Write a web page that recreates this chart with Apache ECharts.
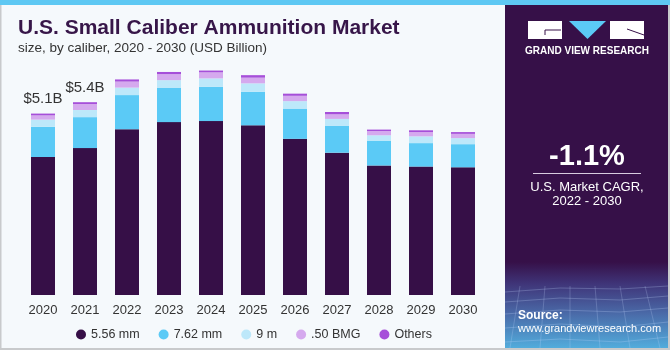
<!DOCTYPE html>
<html>
<head>
<meta charset="utf-8">
<script src="https://cdn.jsdelivr.net/npm/echarts@6/dist/echarts.min.js"></script>
<style>
  html, body { margin: 0; padding: 0; }
  #main { width: 670px; height: 350px; }
</style>
</head>
<body>
<div id="main"></div>
<script>
// data (USD Billion)
var years = ['2020', '2021', '2022', '2023', '2024', '2025', '2026', '2027', '2028', '2029', '2030'];
var mm556 = [3.88, 4.13, 4.66, 4.86, 4.89, 4.77, 4.39, 4.00, 3.64, 3.61, 3.59];
var mm762 = [0.85, 0.87, 0.96, 0.96, 0.96, 0.94, 0.85, 0.76, 0.69, 0.66, 0.65];
var mm9 = [0.20, 0.20, 0.21, 0.22, 0.24, 0.24, 0.21, 0.19, 0.16, 0.19, 0.17];
var bmg50 = [0.12, 0.17, 0.17, 0.17, 0.17, 0.16, 0.15, 0.13, 0.12, 0.12, 0.12];
var others = [0.05, 0.05, 0.06, 0.06, 0.05, 0.07, 0.06, 0.065, 0.04, 0.05, 0.05];
var totalLabels = ['$5.1B', '$5.4B', '', '', '', '', '', '', '', '', ''];

var names = ['5.56 mm', '7.62 mm', '9 m', '.50 BMG', 'Others'];
var colors = ['#360f47', '#5bcaf6', '#bde8fa', '#d5a9ee', '#a64fd9'];
var values = [mm556, mm762, mm9, bmg50, others];

var myChart = echarts.init(document.getElementById('main'));

var series = values.map(function (arr, i) {
    var s = {
        name: names[i],
        type: 'bar',
        stack: 'total',
        barWidth: 24,
        itemStyle: { color: colors[i] },
        data: arr
    };
    if (i === values.length - 1) {
        s.data = arr.map(function (v, j) {
            return {
                value: v,
                label: {
                    show: totalLabels[j] !== '',
                    position: 'top',
                    distance: 7,
                    formatter: totalLabels[j],
                    fontSize: 15,
                    color: '#333',
                    fontFamily: 'Liberation Sans'
                }
            };
        });
    }
    return s;
});

var option = {
    backgroundColor: '#f5f9fc',
    animation: false,
    textStyle: { fontFamily: 'Liberation Sans' },
    grid: { left: 22, right: 186, top: 46, bottom: 55 },
    xAxis: {
        type: 'category',
        data: years,
        axisLine: { show: false },
        axisTick: { show: false },
        axisLabel: { color: '#333', fontSize: 13, margin: 9 }
    },
    yAxis: {
        type: 'value',
        min: 0,
        max: 7,
        show: false
    },
    legend: {
        data: names,
        left: 71,
        top: 323,
        icon: 'circle',
        itemWidth: 10,
        itemHeight: 10,
        itemGap: 19,
        textStyle: { color: '#333', fontSize: 12.5 }
    },
    series: series,
    graphic: [
        // borders and top stripe
        { type: 'rect', shape: { x: 0, y: 0, width: 670, height: 5 }, style: { fill: '#5ec8f3' } },
        { type: 'rect', shape: { x: 0, y: 5, width: 1.5, height: 345 }, style: { fill: '#c8cacc' } },
        { type: 'rect', shape: { x: 0, y: 348, width: 670, height: 2 }, style: { fill: '#c8cacc' } },
        { type: 'rect', shape: { x: 668, y: 5, width: 2, height: 345 }, style: { fill: '#c8cacc' } },
        // right panel
        { type: 'rect', shape: { x: 505, y: 5, width: 163, height: 343 }, style: { fill: '#361048' } },
        {
            type: 'rect', shape: { x: 505, y: 262, width: 163, height: 86 },
            style: {
                fill: new echarts.graphic.LinearGradient(0, 0, 0, 1, [
                    { offset: 0, color: '#361048' },
                    { offset: 0.25, color: '#3f3478' },
                    { offset: 0.6, color: '#4a6aa8' },
                    { offset: 1, color: '#52acdc' }
                ])
            }
        },
        // mesh lines
        { type: 'polyline', silent: true, shape: { points: [[505, 292], [560, 288], [620, 289], [668, 286]] }, style: { stroke: 'rgba(200,220,255,0.25)', lineWidth: 1, fill: null } },
        { type: 'polyline', silent: true, shape: { points: [[505, 302], [560, 298], [620, 300], [668, 296]] }, style: { stroke: 'rgba(200,220,255,0.25)', lineWidth: 1, fill: null } },
        { type: 'polyline', silent: true, shape: { points: [[505, 314], [560, 310], [620, 312], [668, 308]] }, style: { stroke: 'rgba(200,220,255,0.25)', lineWidth: 1, fill: null } },
        { type: 'polyline', silent: true, shape: { points: [[505, 328], [560, 324], [620, 327], [668, 322]] }, style: { stroke: 'rgba(200,220,255,0.25)', lineWidth: 1, fill: null } },
        { type: 'polyline', silent: true, shape: { points: [[505, 342], [560, 339], [620, 342], [668, 337]] }, style: { stroke: 'rgba(200,220,255,0.25)', lineWidth: 1, fill: null } },
        { type: 'line', silent: true, shape: { x1: 520, y1: 286, x2: 510, y2: 348 }, style: { stroke: 'rgba(200,220,255,0.22)', lineWidth: 1 } },
        { type: 'line', silent: true, shape: { x1: 545, y1: 286, x2: 540, y2: 348 }, style: { stroke: 'rgba(200,220,255,0.22)', lineWidth: 1 } },
        { type: 'line', silent: true, shape: { x1: 570, y1: 286, x2: 570, y2: 348 }, style: { stroke: 'rgba(200,220,255,0.22)', lineWidth: 1 } },
        { type: 'line', silent: true, shape: { x1: 595, y1: 286, x2: 600, y2: 348 }, style: { stroke: 'rgba(200,220,255,0.22)', lineWidth: 1 } },
        { type: 'line', silent: true, shape: { x1: 620, y1: 286, x2: 630, y2: 348 }, style: { stroke: 'rgba(200,220,255,0.22)', lineWidth: 1 } },
        { type: 'line', silent: true, shape: { x1: 645, y1: 286, x2: 660, y2: 348 }, style: { stroke: 'rgba(200,220,255,0.22)', lineWidth: 1 } },
        // logo
        { type: 'rect', shape: { x: 528, y: 21, width: 34, height: 18 }, style: { fill: '#fff' } },
        { type: 'polyline', shape: { points: [[561, 30], [545, 30], [545, 35]] }, style: { stroke: '#361048', lineWidth: 1, fill: null } },
        { type: 'polygon', shape: { points: [[569, 21], [606, 21], [587.5, 39]] }, style: { fill: '#5bcaf6' } },
        { type: 'rect', shape: { x: 610, y: 21, width: 34, height: 18 }, style: { fill: '#fff' } },
        { type: 'line', shape: { x1: 627, y1: 29, x2: 644, y2: 35 }, style: { stroke: '#361048', lineWidth: 1 } },
        { type: 'text', style: { x: 587, y: 51, text: 'GRAND VIEW RESEARCH', fill: '#fff', font: 'bold 10px "Liberation Sans"', textAlign: 'center', textVerticalAlign: 'middle' } },
        // CAGR
        { type: 'text', style: { x: 587, y: 157, text: '-1.1%', fill: '#fff', font: 'bold 29px "Liberation Sans"', textAlign: 'center', textVerticalAlign: 'middle' } },
        { type: 'rect', shape: { x: 533, y: 173, width: 108, height: 1 }, style: { fill: '#d8cce0' } },
        { type: 'text', style: { x: 587, y: 187, text: 'U.S. Market CAGR,', fill: '#fff', font: '13px "Liberation Sans"', textAlign: 'center', textVerticalAlign: 'middle' } },
        { type: 'text', style: { x: 587, y: 201, text: '2022 - 2030', fill: '#fff', font: '13px "Liberation Sans"', textAlign: 'center', textVerticalAlign: 'middle' } },
        // source
        { type: 'text', style: { x: 518, y: 316, text: 'Source:', fill: '#fff', font: 'bold 12px "Liberation Sans"', textVerticalAlign: 'middle' } },
        { type: 'text', style: { x: 518, y: 329, text: 'www.grandviewresearch.com', fill: '#fff', font: '11px "Liberation Sans"', textVerticalAlign: 'middle' } },
        // titles
        { type: 'text', style: { x: 18, y: 28, text: 'U.S. Small Caliber Ammunition Market', fill: '#371649', font: 'bold 21px "Liberation Sans"', textVerticalAlign: 'middle' } },
        { type: 'text', style: { x: 18, y: 48, text: 'size, by caliber, 2020 - 2030 (USD Billion)', fill: '#333', font: '13.5px "Liberation Sans"', textVerticalAlign: 'middle' } }
    ]
};

myChart.setOption(option);
</script>
</body>
</html>
